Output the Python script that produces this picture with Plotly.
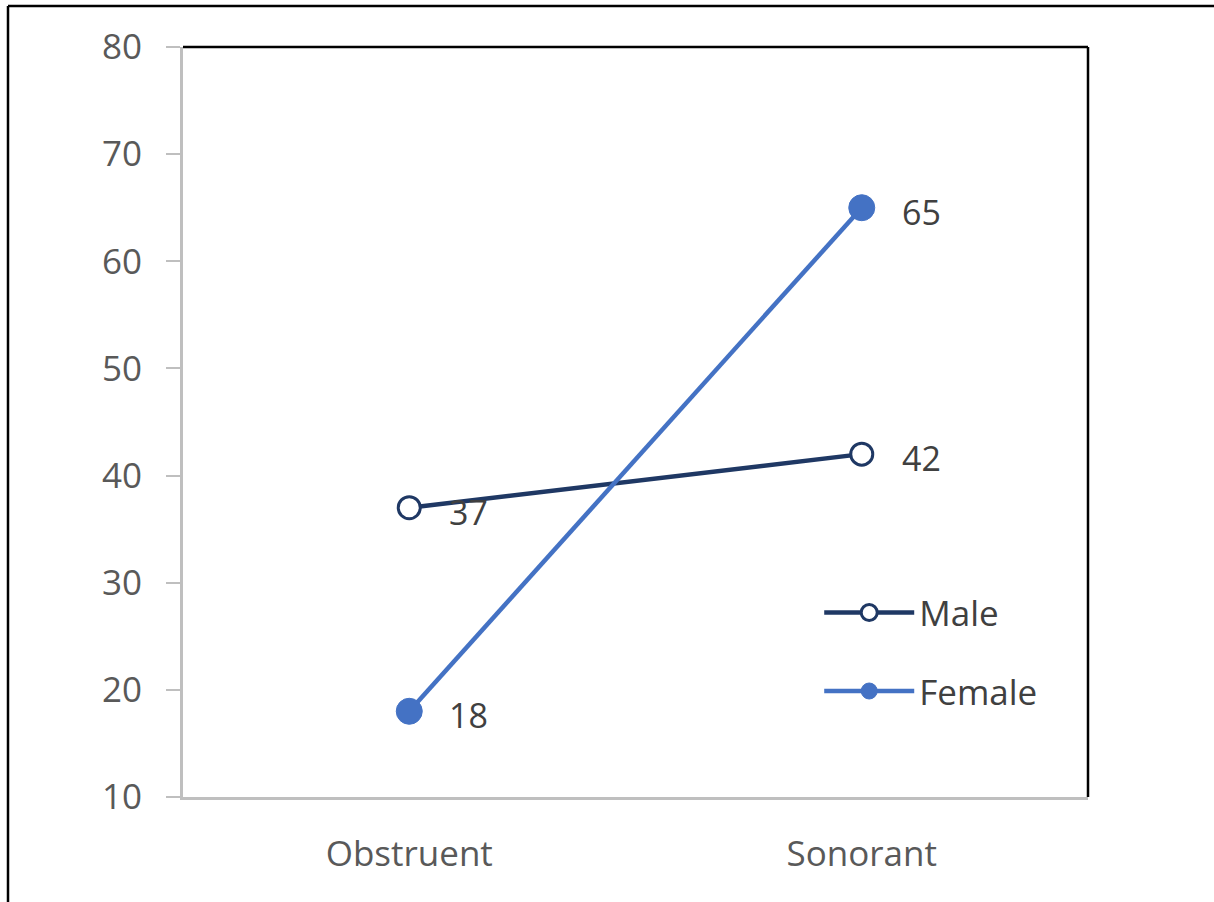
import plotly.graph_objects as go

categories = ["Obstruent", "Sonorant"]
male = [37, 42]
female = [18, 65]
y_ticks = [10, 20, 30, 40, 50, 60, 70, 80]

W, H = 1214, 902
L, R, T, B = 183, 126, 47, 105

FONT = "Open Sans"
FS = 35

fig = go.Figure()
fig.add_trace(go.Scatter(
    x=categories, y=male, name="Male", mode="lines+markers",
    line=dict(color="#1F3864", width=4.5),
    marker=dict(symbol="circle", size=22, color="white",
                line=dict(color="#1F3864", width=3)),
    legendgroup="m",
))
fig.add_trace(go.Scatter(
    x=categories, y=female, name="Female", mode="lines+markers",
    line=dict(color="#4472C4", width=4.5),
    marker=dict(symbol="circle", size=26, color="#4472C4",
                line=dict(color="#4472C4", width=1)),
    legendgroup="f",
))

for series in (male, female):
    for c, v in zip(categories, series):
        fig.add_annotation(x=c, y=v, text=str(v), showarrow=False,
                           xanchor="left", yanchor="middle",
                           xshift=38, yshift=-4,
                           font=dict(family=FONT, size=FS - 1, color="#404040"))

# plot-area black top/right border
fig.add_shape(type="line", xref="paper", yref="paper", x0=0, x1=1, y0=1, y1=1,
              line=dict(color="black", width=2.5))
fig.add_shape(type="line", xref="paper", yref="paper", x0=1, x1=1, y0=0, y1=1,
              line=dict(color="black", width=2.5))

# outer frame: left and top lines
pw = W - L - R
ph = H - T - B
fx = (8 - L) / pw
fy = (H - 6 - B) / ph
fig.add_shape(type="line", xref="paper", yref="paper", x0=fx, x1=fx,
              y0=(0 - B) / ph - 0.1, y1=fy, line=dict(color="black", width=2.5))
fig.add_shape(type="line", xref="paper", yref="paper", x0=fx, x1=(W - L) / pw + 0.1,
              y0=fy, y1=fy, line=dict(color="black", width=2.5))

fig.update_layout(
    width=W, height=H,
    margin=dict(l=L, r=R, t=T, b=B, pad=0),
    paper_bgcolor="white", plot_bgcolor="white",
    font=dict(family=FONT, size=FS, color="#595959"),
    showlegend=True,
    legend=dict(x=0.703, y=0.285, xanchor="left", yanchor="top",
                bgcolor="rgba(0,0,0,0)", font=dict(family=FONT, size=FS, color="#404040"),
                itemwidth=90, traceorder="grouped", tracegroupgap=30),
    xaxis=dict(type="category", range=[-0.5, 1.5], showgrid=False, zeroline=False,
               showline=True, linecolor="#BFBFBF", linewidth=3, ticks="",
               ticklabelstandoff=24,
               tickfont=dict(family=FONT, size=FS, color="#595959")),
    yaxis=dict(range=[10, 80], tickvals=y_ticks, showgrid=False, zeroline=False,
               showline=True, linecolor="#BFBFBF", linewidth=3,
               ticks="outside", ticklen=14, tickwidth=2, tickcolor="#BFBFBF",
               ticklabelstandoff=17,
               tickfont=dict(family=FONT, size=FS, color="#595959")),
)

fig.write_html("out.html", config={"displayModeBar": False},
               post_script="document.body.style.margin='0';")
